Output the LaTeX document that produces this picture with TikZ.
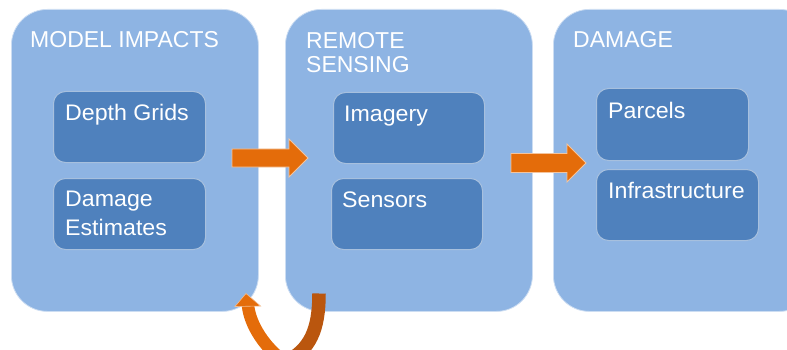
\documentclass[tikz,border=0pt]{standalone}
\usepackage{fontspec}
\setmainfont{Liberation Sans}
\newfontfamily\titlefont{Liberation Sans}
\newfontfamily\itemfont[FakeStretch=1.03]{Liberation Sans}
\definecolor{panelblue}{RGB}{142,180,227}
\definecolor{innerblue}{RGB}{79,129,189}
\definecolor{orng}{RGB}{228,108,10}
\definecolor{dorng}{RGB}{186,86,14}
\begin{document}
\begin{tikzpicture}[x=1pt,y=-1pt,
  panelbox/.style={fill=panelblue, draw=white!55!panelblue, line width=0.8pt, rounded corners=36pt, anchor=north west, inner sep=0pt, minimum height=302pt},
  itembox/.style={fill=innerblue, draw=white!50!innerblue, line width=1pt, rounded corners=12pt, anchor=north west, inner sep=0pt},
  titletext/.style={anchor=base west, inner sep=0pt, text=white, font=\titlefont\fontsize{23pt}{24.4pt}\selectfont, align=left},
  itemtext/.style={anchor=base west, inner sep=0pt, text=white, font=\itemfont\fontsize{22.5pt}{29pt}\selectfont, align=left},
  blockarrow/.style={fill=orng, draw=white!60!orng, line width=0.8pt}
]
\useasboundingbox (0,0) rectangle (787,350);
\begin{scope}
\clip (0,0) rectangle (787,350);
% panels
\node[panelbox, minimum width=247pt] (p1) at (11,9) {};
\node[panelbox, minimum width=247pt] (p2) at (285,9) {};
\node[panelbox, minimum width=262pt] (p3) at (553,9) {};
% titles
\node[titletext] (t1) at (30,47.3) {MODEL IMPACTS};
\node[titletext, anchor=north west] (t2) at (306,32) {REMOTE\\SENSING};
\node[titletext] (t3) at (573,47.7) {DAMAGE};
% inner boxes
\node[itembox, minimum width=152pt, minimum height=71pt] (b1) at (53,91) {};
\node[itembox, minimum width=152pt, minimum height=71pt] (b2) at (53,178) {};
\node[itembox, minimum width=151pt, minimum height=71pt] (b3) at (333,92) {};
\node[itembox, minimum width=151pt, minimum height=71pt] (b4) at (331,178) {};
\node[itembox, minimum width=152pt, minimum height=72pt] (b5) at (596,88) {};
\node[itembox, minimum width=162pt, minimum height=71pt] (b6) at (596,169) {};
% item texts
\node[itemtext] (x1) at (65,121) {Depth Grids};
\node[itemtext] (x2) at (65,206.7) {Damage};
\node[itemtext] (x2b) at (65,235.7) {Estimates};
\node[itemtext] (x3) at (344,121.5) {Imagery};
\node[itemtext] (x4) at (342,207) {Sensors};
\node[itemtext] (x5) at (608,119) {Parcels};
\node[itemtext] (x6) at (608,198.3) {Infrastructure};
% block arrows
\draw[blockarrow] (232,149) -- (289,149) -- (289,139) -- (308,158) -- (289,177) -- (289,167) -- (232,167) -- cycle;
\draw[blockarrow] (511,153.5) -- (567,153.5) -- (567,144) -- (586,163) -- (567,182) -- (567,172.5) -- (511,172.5) -- cycle;
% U-turn arrow
\coordinate (ua) at (319,293.5);
\coordinate (ub) at (285,362);
\coordinate (uc) at (248,305.5);
\draw[orng, line width=12.5pt] (ub) .. controls (265,348) and (250,325) .. (uc);
\draw[dorng, line width=13.5pt] (ua) .. controls (319,330) and (310,350) .. (ub);
\filldraw[orng, draw=white!55!orng, line width=0.6pt] (235,306.5) -- (260.5,306) -- (246,293.5) -- cycle;
\end{scope}
\end{tikzpicture}
\end{document}
